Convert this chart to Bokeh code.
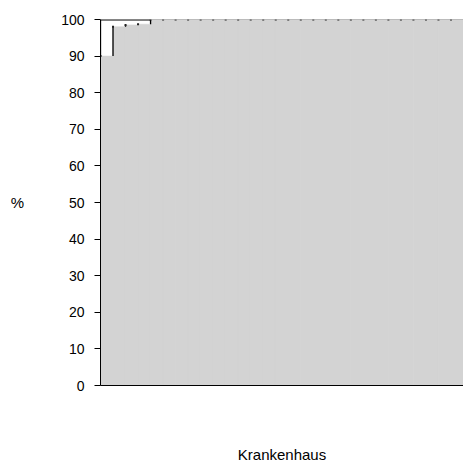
from bokeh.plotting import figure
from bokeh.models import ColumnDataSource, Range1d, FixedTicker, Span
from bokeh.embed import file_html
from bokeh.resources import INLINE

# Data: share (%) per hospital, sorted ascending
hospitals = list(range(1, 30))
values = [90.0, 98.0, 98.5, 98.7] + [100.0] * 25
y_ticks = [0, 10, 20, 30, 40, 50, 60, 70, 80, 90, 100]
y_label = "%"
x_label = "Krankenhaus"

FONT = "Liberation Sans"

p = figure(width=463, height=465, output_backend="svg", toolbar_location=None,
           x_range=Range1d(0.5, len(hospitals) + 0.5), y_range=Range1d(0, 100),
           min_border_left=100, min_border_right=0, min_border_top=19, min_border_bottom=70)
p.outline_line_color = None
p.xgrid.visible = False
p.ygrid.visible = False

src = ColumnDataSource(dict(x=hospitals, top=values))
p.vbar(x="x", top="top", width=1.04, bottom=0, source=src,
       fill_color="#d3d3d3", line_color="#d3d3d3", line_width=0.6)

# reference line at the top (100 %)
p.add_layout(Span(location=y_ticks[-1], dimension="width", line_color="#8c8c8c", line_width=1))

# black step risers between neighbouring bars (start from 100 at the left)
prev = [y_ticks[-1]] + values[:-1]
rx = [h - 0.5 for h in hospitals]
p.segment(x0=rx, y0=prev, x1=rx, y1=values, line_color="black", line_width=1.3)
p.scatter(x=rx, y=values, marker="square", size=2, fill_color="#222222", line_color=None)

# black line at 100 above bars below 100
below = [h for h, v in zip(hospitals, values) if v < y_ticks[-1]]
p.segment(x0=[below[0] - 0.5], y0=[y_ticks[-1]], x1=[below[-1] + 0.5], y1=[y_ticks[-1]],
          line_color="black", line_width=2)

# y axis
p.yaxis.ticker = FixedTicker(ticks=y_ticks)
p.yaxis.minor_tick_line_color = None
p.yaxis.major_tick_in = 0
p.yaxis.major_tick_out = 6
p.yaxis.major_tick_line_color = "black"
p.yaxis.axis_line_color = "black"
p.yaxis.major_label_text_font = FONT
p.yaxis.major_label_text_font_size = "14px"
p.yaxis.major_label_text_color = "black"
p.yaxis.major_label_standoff = 10
p.yaxis.axis_label = y_label
p.yaxis.axis_label_orientation = "horizontal"
p.yaxis.axis_label_text_font = FONT
p.yaxis.axis_label_text_font_size = "15px"
p.yaxis.axis_label_text_font_style = "normal"
p.yaxis.axis_label_text_color = "black"
p.yaxis.axis_label_standoff = 34

# x axis
p.xaxis.ticker = FixedTicker(ticks=[])
p.xaxis.minor_tick_line_color = None
p.xaxis.major_tick_line_color = None
p.xaxis.major_label_text_font_size = "0px"
p.xaxis.axis_line_color = "black"
p.xaxis.axis_label = x_label
p.xaxis.axis_label_text_font = FONT
p.xaxis.axis_label_text_font_size = "15px"
p.xaxis.axis_label_text_font_style = "normal"
p.xaxis.axis_label_text_color = "black"
p.xaxis.axis_label_standoff = 60

open("out.html", "w").write(file_html(p, INLINE))
